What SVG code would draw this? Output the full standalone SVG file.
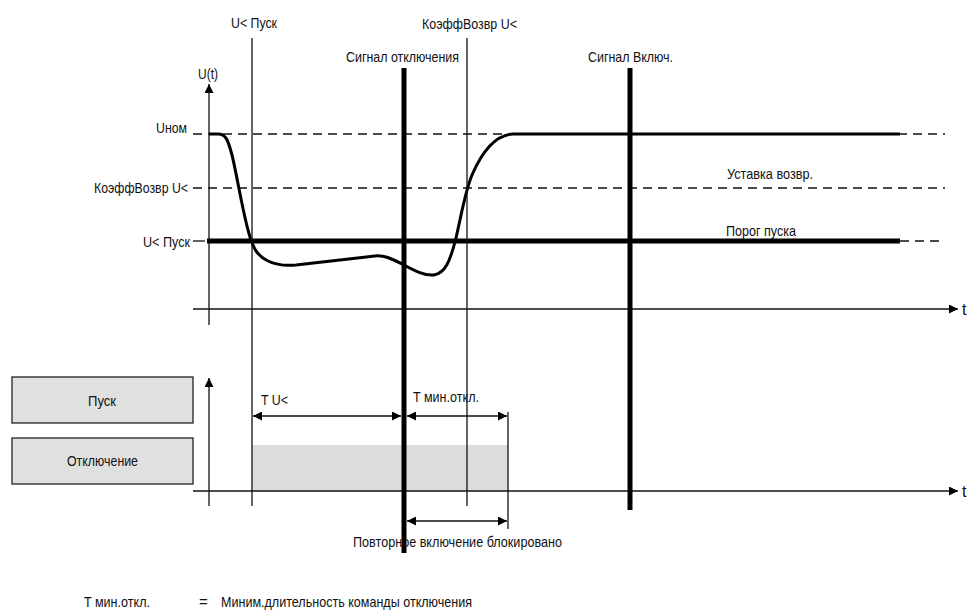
<svg xmlns="http://www.w3.org/2000/svg" width="971" height="610" viewBox="0 0 971 610">
<style>
text{font-family:"Liberation Sans Narrow","Liberation Sans",Arial,sans-serif;font-size:15px;fill:#111;}
.thin{stroke:#111;stroke-width:1.3;fill:none;}
.thick{stroke:#000;stroke-width:5;fill:none;}
.dash{stroke:#111;stroke-width:1.3;fill:none;stroke-dasharray:9,6;}
.box{fill:#e0e0e0;stroke:#222;stroke-width:1.3;}
</style>
<defs>
<marker id="ah" viewBox="0 0 10 10" refX="10" refY="5" markerWidth="11" markerHeight="9" markerUnits="userSpaceOnUse" orient="auto-start-reverse">
<path d="M0,0 L10,5 L0,10 z" fill="#000"/>
</marker>
</defs>
<rect width="971" height="610" fill="#fff"/>

<g id="levels">
<line class="dash" x1="193" y1="134" x2="945" y2="134"/>
<line class="dash" x1="193" y1="188" x2="945" y2="188"/>
<line class="thin" x1="193" y1="241" x2="205" y2="241"/>
<line class="dash" x1="900" y1="241" x2="945" y2="241"/>
<text x="156" y="133" textLength="31" lengthAdjust="spacingAndGlyphs">Uном</text>
<text x="94" y="193" textLength="94" lengthAdjust="spacingAndGlyphs">КоэффВозвр U&lt;</text>
<text x="143" y="247" textLength="47" lengthAdjust="spacingAndGlyphs">U&lt; Пуск</text>
<text x="727" y="179" textLength="86" lengthAdjust="spacingAndGlyphs">Уставка возвр.</text>
<text x="726" y="236" textLength="70" lengthAdjust="spacingAndGlyphs">Порог пуска</text>
</g>

<g id="gray-fill">
<rect x="252" y="445" width="256" height="46" fill="#dcdcdc"/>
</g>

<g id="axes">
<line class="thin" x1="209" y1="325" x2="209" y2="84" marker-end="url(#ah)"/>
<text x="198" y="79" textLength="20" lengthAdjust="spacingAndGlyphs">U(t)</text>
<line class="thin" x1="193" y1="309" x2="958" y2="309" marker-end="url(#ah)"/>
<text x="962" y="315" style="font-size:16px">t</text>
<line class="thin" x1="209" y1="506" x2="209" y2="378" marker-end="url(#ah)"/>
<line class="thin" x1="193" y1="491" x2="958" y2="491" marker-end="url(#ah)"/>
<text x="962" y="497" style="font-size:16px">t</text>
</g>

<g id="threshold">
<line class="thick" x1="207" y1="241" x2="900" y2="241"/>
</g>

<g id="curve">
<path d="M209,134 L218,134 C226,134 228,140 232,155 C237,175 243,215 250,237 C254,250 258,256 268,261 C276,265 284,266 296,265 L375,256 C385,255 392,259 404,265 C415,271 425,276 434,275 C445,273 450,262 456,238 C462,212 465,192 472,175 C482,152 495,135 513,134 L900,134" fill="none" stroke="#000" stroke-width="3"/>
</g>

<g id="verticals">
<line class="thin" x1="252" y1="38" x2="252" y2="506"/>
<text x="231" y="28" textLength="46" lengthAdjust="spacingAndGlyphs">U&lt; Пуск</text>
<line class="thin" x1="467" y1="38" x2="467" y2="506"/>
<text x="422" y="29" textLength="95" lengthAdjust="spacingAndGlyphs">КоэффВозвр U&lt;</text>
<line class="thick" x1="404" y1="68" x2="404" y2="553"/>
<text x="346" y="62" textLength="113" lengthAdjust="spacingAndGlyphs">Сигнал отключения</text>
<line class="thick" x1="630" y1="68" x2="630" y2="510"/>
<text x="588" y="62" textLength="85" lengthAdjust="spacingAndGlyphs">Сигнал Включ.</text>
<line class="thin" x1="508" y1="412" x2="508" y2="529"/>
</g>

<g id="node-pusk">
<rect class="box" x="12" y="377" width="181" height="46"/>
<text x="88" y="406" textLength="28" lengthAdjust="spacingAndGlyphs">Пуск</text>
</g>
<g id="node-otkl">
<rect class="box" x="12" y="438" width="181" height="46"/>
<text x="67" y="466" textLength="71" lengthAdjust="spacingAndGlyphs">Отключение</text>
</g>

<g id="connectors">
<line class="thin" x1="253" y1="416" x2="401" y2="416" marker-start="url(#ah)" marker-end="url(#ah)"/>
<line class="thin" x1="407" y1="416" x2="507" y2="416" marker-start="url(#ah)" marker-end="url(#ah)"/>
<line class="thin" x1="407" y1="521" x2="507" y2="521" marker-start="url(#ah)" marker-end="url(#ah)"/>
</g>

<g id="labels">
<text x="261" y="405" textLength="27" lengthAdjust="spacingAndGlyphs">T U&lt;</text>
<text x="413" y="402" textLength="66" lengthAdjust="spacingAndGlyphs">T мин.откл.</text>
<text x="353" y="547" textLength="209" lengthAdjust="spacingAndGlyphs">Повторное включение блокировано</text>
<text x="84" y="607" textLength="66" lengthAdjust="spacingAndGlyphs">T мин.откл.</text>
<text x="199" y="607">=</text>
<text x="221" y="607" textLength="251" lengthAdjust="spacingAndGlyphs">Миним.длительность команды отключения</text>
</g>
</svg>
